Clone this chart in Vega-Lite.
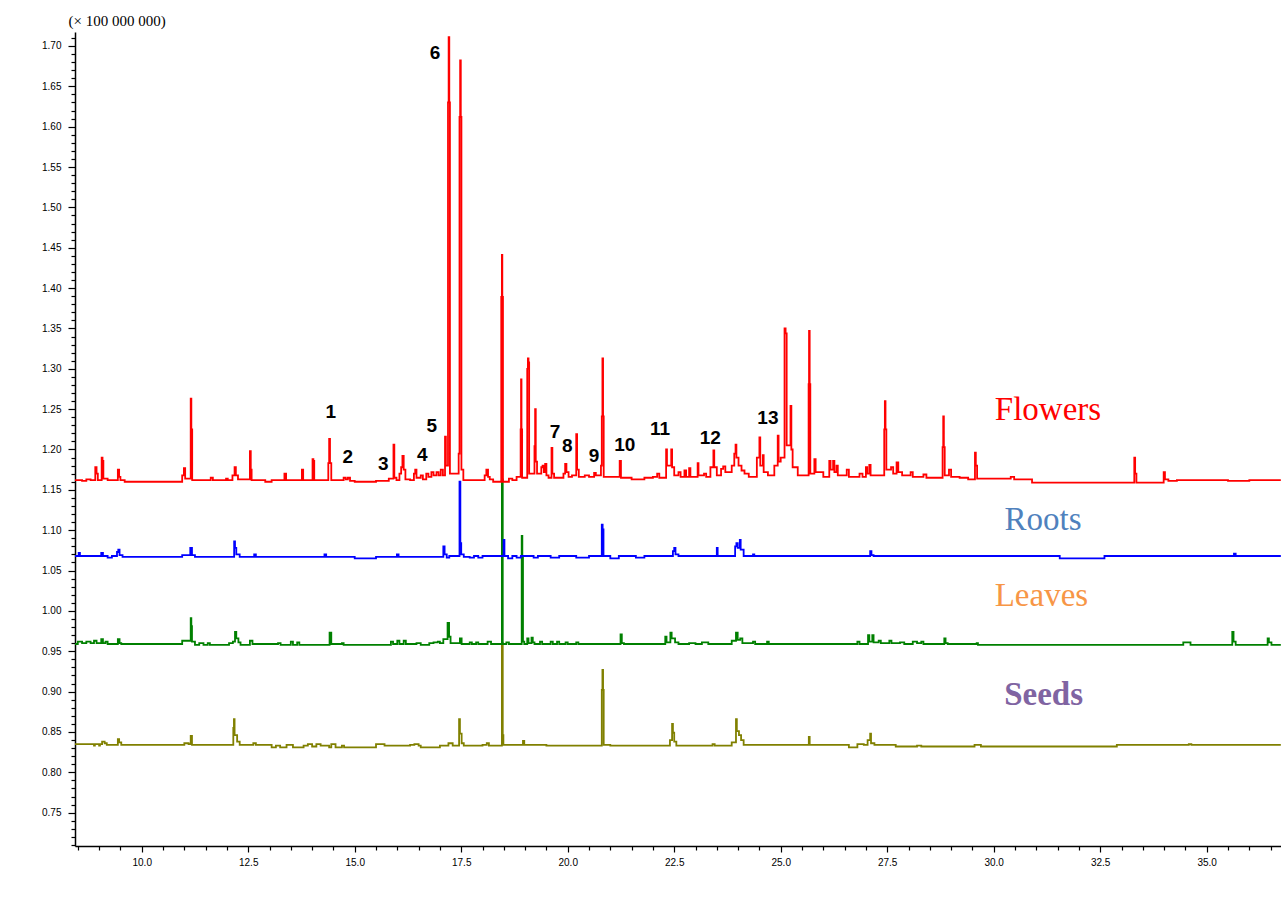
{
"$schema": "https://vega.github.io/schema/vega-lite/v6.json",
"width": 1206, "height": 814,
"autosize": {"type": "none"},
"padding": {"left": 75, "top": 32, "right": 0, "bottom": 59},
"background": "white",
"config": {"view": {"stroke": null}},
"datasets": {
"trace": [
{"part":"F","rt":8.43,"v":1.162},{"part":"F","rt":8.60,"v":1.161},{"part":"F","rt":8.70,"v":1.163},{"part":"F","rt":8.80,"v":1.162},{"part":"F","rt":8.91,"v":1.178},{"part":"F","rt":8.94,"v":1.170},{"part":"F","rt":8.97,"v":1.162},{"part":"F","rt":9.06,"v":1.190},{"part":"F","rt":9.08,"v":1.186},{"part":"F","rt":9.10,"v":1.164},{"part":"F","rt":9.20,"v":1.162},{"part":"F","rt":9.44,"v":1.175},{"part":"F","rt":9.47,"v":1.166},{"part":"F","rt":9.50,"v":1.162},{"part":"F","rt":9.60,"v":1.160},{"part":"F","rt":10.95,"v":1.168},{"part":"F","rt":10.99,"v":1.177},{"part":"F","rt":11.02,"v":1.164},{"part":"F","rt":11.15,"v":1.263},{"part":"F","rt":11.165,"v":1.225},{"part":"F","rt":11.185,"v":1.162},{"part":"F","rt":11.62,"v":1.165},{"part":"F","rt":11.67,"v":1.162},{"part":"F","rt":11.98,"v":1.164},{"part":"F","rt":12.02,"v":1.162},{"part":"F","rt":12.13,"v":1.168},{"part":"F","rt":12.18,"v":1.178},{"part":"F","rt":12.21,"v":1.168},{"part":"F","rt":12.26,"v":1.163},{"part":"F","rt":12.54,"v":1.198},{"part":"F","rt":12.56,"v":1.175},{"part":"F","rt":12.58,"v":1.162},{"part":"F","rt":12.90,"v":1.160},{"part":"F","rt":13.05,"v":1.162},{"part":"F","rt":13.35,"v":1.170},{"part":"F","rt":13.39,"v":1.162},{"part":"F","rt":13.76,"v":1.175},{"part":"F","rt":13.79,"v":1.162},{"part":"F","rt":14.01,"v":1.188},{"part":"F","rt":14.03,"v":1.186},{"part":"F","rt":14.05,"v":1.162},{"part":"F","rt":14.38,"v":1.183},{"part":"F","rt":14.40,"v":1.213},{"part":"F","rt":14.42,"v":1.183},{"part":"F","rt":14.45,"v":1.162},{"part":"F","rt":14.74,"v":1.165},{"part":"F","rt":14.79,"v":1.163},{"part":"F","rt":14.84,"v":1.165},{"part":"F","rt":14.89,"v":1.161},{"part":"F","rt":15.00,"v":1.160},{"part":"F","rt":15.50,"v":1.161},{"part":"F","rt":15.80,"v":1.164},{"part":"F","rt":15.91,"v":1.206},{"part":"F","rt":15.93,"v":1.165},{"part":"F","rt":15.98,"v":1.162},{"part":"F","rt":16.05,"v":1.170},{"part":"F","rt":16.09,"v":1.178},{"part":"F","rt":16.12,"v":1.192},{"part":"F","rt":16.15,"v":1.175},{"part":"F","rt":16.19,"v":1.163},{"part":"F","rt":16.30,"v":1.162},{"part":"F","rt":16.39,"v":1.170},{"part":"F","rt":16.42,"v":1.175},{"part":"F","rt":16.45,"v":1.165},{"part":"F","rt":16.55,"v":1.168},{"part":"F","rt":16.60,"v":1.163},{"part":"F","rt":16.68,"v":1.170},{"part":"F","rt":16.73,"v":1.166},{"part":"F","rt":16.80,"v":1.172},{"part":"F","rt":16.85,"v":1.168},{"part":"F","rt":16.92,"v":1.172},{"part":"F","rt":16.97,"v":1.168},{"part":"F","rt":17.02,"v":1.175},{"part":"F","rt":17.07,"v":1.168},{"part":"F","rt":17.12,"v":1.216},{"part":"F","rt":17.14,"v":1.180},{"part":"F","rt":17.19,"v":1.630},{"part":"F","rt":17.205,"v":1.711},{"part":"F","rt":17.22,"v":1.630},{"part":"F","rt":17.235,"v":1.170},{"part":"F","rt":17.44,"v":1.195},{"part":"F","rt":17.46,"v":1.612},{"part":"F","rt":17.475,"v":1.682},{"part":"F","rt":17.49,"v":1.612},{"part":"F","rt":17.505,"v":1.175},{"part":"F","rt":17.55,"v":1.162},{"part":"F","rt":18.05,"v":1.168},{"part":"F","rt":18.09,"v":1.175},{"part":"F","rt":18.13,"v":1.166},{"part":"F","rt":18.17,"v":1.163},{"part":"F","rt":18.25,"v":1.160},{"part":"F","rt":18.44,"v":1.389},{"part":"F","rt":18.455,"v":1.441},{"part":"F","rt":18.465,"v":1.389},{"part":"F","rt":18.48,"v":1.160},{"part":"F","rt":18.62,"v":1.164},{"part":"F","rt":18.70,"v":1.162},{"part":"F","rt":18.80,"v":1.166},{"part":"F","rt":18.895,"v":1.225},{"part":"F","rt":18.905,"v":1.287},{"part":"F","rt":18.915,"v":1.225},{"part":"F","rt":18.93,"v":1.165},{"part":"F","rt":19.05,"v":1.300},{"part":"F","rt":19.065,"v":1.313},{"part":"F","rt":19.08,"v":1.308},{"part":"F","rt":19.095,"v":1.170},{"part":"F","rt":19.22,"v":1.204},{"part":"F","rt":19.235,"v":1.250},{"part":"F","rt":19.25,"v":1.185},{"part":"F","rt":19.28,"v":1.170},{"part":"F","rt":19.38,"v":1.178},{"part":"F","rt":19.41,"v":1.180},{"part":"F","rt":19.44,"v":1.172},{"part":"F","rt":19.47,"v":1.182},{"part":"F","rt":19.50,"v":1.168},{"part":"F","rt":19.55,"v":1.165},{"part":"F","rt":19.62,"v":1.202},{"part":"F","rt":19.64,"v":1.170},{"part":"F","rt":19.68,"v":1.165},{"part":"F","rt":19.90,"v":1.170},{"part":"F","rt":19.94,"v":1.182},{"part":"F","rt":19.97,"v":1.172},{"part":"F","rt":20.02,"v":1.166},{"part":"F","rt":20.10,"v":1.168},{"part":"F","rt":20.20,"v":1.219},{"part":"F","rt":20.22,"v":1.175},{"part":"F","rt":20.26,"v":1.166},{"part":"F","rt":20.40,"v":1.168},{"part":"F","rt":20.50,"v":1.166},{"part":"F","rt":20.62,"v":1.171},{"part":"F","rt":20.66,"v":1.168},{"part":"F","rt":20.78,"v":1.180},{"part":"F","rt":20.80,"v":1.241},{"part":"F","rt":20.815,"v":1.313},{"part":"F","rt":20.83,"v":1.241},{"part":"F","rt":20.845,"v":1.166},{"part":"F","rt":21.22,"v":1.186},{"part":"F","rt":21.25,"v":1.165},{"part":"F","rt":21.50,"v":1.163},{"part":"F","rt":21.80,"v":1.165},{"part":"F","rt":22.00,"v":1.166},{"part":"F","rt":22.10,"v":1.170},{"part":"F","rt":22.15,"v":1.165},{"part":"F","rt":22.31,"v":1.200},{"part":"F","rt":22.33,"v":1.180},{"part":"F","rt":22.43,"v":1.200},{"part":"F","rt":22.45,"v":1.178},{"part":"F","rt":22.50,"v":1.168},{"part":"F","rt":22.60,"v":1.172},{"part":"F","rt":22.65,"v":1.166},{"part":"F","rt":22.74,"v":1.174},{"part":"F","rt":22.78,"v":1.166},{"part":"F","rt":22.85,"v":1.177},{"part":"F","rt":22.88,"v":1.166},{"part":"F","rt":23.05,"v":1.183},{"part":"F","rt":23.07,"v":1.168},{"part":"F","rt":23.20,"v":1.170},{"part":"F","rt":23.25,"v":1.166},{"part":"F","rt":23.35,"v":1.178},{"part":"F","rt":23.42,"v":1.199},{"part":"F","rt":23.44,"v":1.178},{"part":"F","rt":23.50,"v":1.168},{"part":"F","rt":23.60,"v":1.176},{"part":"F","rt":23.65,"v":1.179},{"part":"F","rt":23.70,"v":1.172},{"part":"F","rt":23.85,"v":1.180},{"part":"F","rt":23.91,"v":1.195},{"part":"F","rt":23.94,"v":1.206},{"part":"F","rt":23.96,"v":1.190},{"part":"F","rt":24.01,"v":1.180},{"part":"F","rt":24.08,"v":1.174},{"part":"F","rt":24.15,"v":1.170},{"part":"F","rt":24.25,"v":1.166},{"part":"F","rt":24.44,"v":1.190},{"part":"F","rt":24.50,"v":1.215},{"part":"F","rt":24.52,"v":1.180},{"part":"F","rt":24.58,"v":1.193},{"part":"F","rt":24.60,"v":1.172},{"part":"F","rt":24.70,"v":1.168},{"part":"F","rt":24.85,"v":1.180},{"part":"F","rt":24.93,"v":1.217},{"part":"F","rt":24.95,"v":1.185},{"part":"F","rt":25.00,"v":1.190},{"part":"F","rt":25.09,"v":1.350},{"part":"F","rt":25.115,"v":1.344},{"part":"F","rt":25.14,"v":1.205},{"part":"F","rt":25.23,"v":1.254},{"part":"F","rt":25.25,"v":1.200},{"part":"F","rt":25.28,"v":1.178},{"part":"F","rt":25.40,"v":1.168},{"part":"F","rt":25.655,"v":1.281},{"part":"F","rt":25.665,"v":1.347},{"part":"F","rt":25.68,"v":1.281},{"part":"F","rt":25.695,"v":1.170},{"part":"F","rt":25.79,"v":1.188},{"part":"F","rt":25.82,"v":1.172},{"part":"F","rt":26.00,"v":1.166},{"part":"F","rt":26.14,"v":1.186},{"part":"F","rt":26.17,"v":1.175},{"part":"F","rt":26.23,"v":1.186},{"part":"F","rt":26.26,"v":1.172},{"part":"F","rt":26.31,"v":1.180},{"part":"F","rt":26.34,"v":1.168},{"part":"F","rt":26.55,"v":1.175},{"part":"F","rt":26.60,"v":1.166},{"part":"F","rt":26.85,"v":1.170},{"part":"F","rt":26.92,"v":1.166},{"part":"F","rt":27.00,"v":1.178},{"part":"F","rt":27.03,"v":1.170},{"part":"F","rt":27.08,"v":1.181},{"part":"F","rt":27.11,"v":1.168},{"part":"F","rt":27.43,"v":1.225},{"part":"F","rt":27.445,"v":1.260},{"part":"F","rt":27.46,"v":1.225},{"part":"F","rt":27.48,"v":1.175},{"part":"F","rt":27.59,"v":1.178},{"part":"F","rt":27.64,"v":1.170},{"part":"F","rt":27.72,"v":1.184},{"part":"F","rt":27.76,"v":1.172},{"part":"F","rt":27.85,"v":1.168},{"part":"F","rt":28.05,"v":1.172},{"part":"F","rt":28.10,"v":1.166},{"part":"F","rt":28.35,"v":1.169},{"part":"F","rt":28.42,"v":1.165},{"part":"F","rt":28.80,"v":1.203},{"part":"F","rt":28.815,"v":1.241},{"part":"F","rt":28.83,"v":1.203},{"part":"F","rt":28.85,"v":1.168},{"part":"F","rt":28.95,"v":1.175},{"part":"F","rt":29.00,"v":1.166},{"part":"F","rt":29.20,"v":1.165},{"part":"F","rt":29.40,"v":1.163},{"part":"F","rt":29.56,"v":1.196},{"part":"F","rt":29.58,"v":1.180},{"part":"F","rt":29.61,"v":1.164},{"part":"F","rt":30.10,"v":1.164},{"part":"F","rt":30.40,"v":1.166},{"part":"F","rt":30.48,"v":1.163},{"part":"F","rt":30.90,"v":1.159},{"part":"F","rt":33.30,"v":1.190},{"part":"F","rt":33.32,"v":1.170},{"part":"F","rt":33.35,"v":1.159},{"part":"F","rt":33.99,"v":1.172},{"part":"F","rt":34.02,"v":1.163},{"part":"F","rt":34.10,"v":1.161},{"part":"F","rt":34.30,"v":1.162},{"part":"F","rt":35.50,"v":1.161},{"part":"F","rt":36.00,"v":1.162},{"part":"F","rt":36.74,"v":1.162},
{"part":"R","rt":8.43,"v":1.068},{"part":"R","rt":8.52,"v":1.072},{"part":"R","rt":8.55,"v":1.068},{"part":"R","rt":9.05,"v":1.072},{"part":"R","rt":9.09,"v":1.068},{"part":"R","rt":9.20,"v":1.066},{"part":"R","rt":9.30,"v":1.068},{"part":"R","rt":9.42,"v":1.073},{"part":"R","rt":9.45,"v":1.076},{"part":"R","rt":9.48,"v":1.069},{"part":"R","rt":9.55,"v":1.067},{"part":"R","rt":10.95,"v":1.069},{"part":"R","rt":11.14,"v":1.078},{"part":"R","rt":11.18,"v":1.069},{"part":"R","rt":11.25,"v":1.067},{"part":"R","rt":12.17,"v":1.086},{"part":"R","rt":12.19,"v":1.078},{"part":"R","rt":12.22,"v":1.070},{"part":"R","rt":12.30,"v":1.067},{"part":"R","rt":12.64,"v":1.070},{"part":"R","rt":12.68,"v":1.067},{"part":"R","rt":14.29,"v":1.070},{"part":"R","rt":14.33,"v":1.067},{"part":"R","rt":15.00,"v":1.065},{"part":"R","rt":15.50,"v":1.067},{"part":"R","rt":15.99,"v":1.070},{"part":"R","rt":16.03,"v":1.067},{"part":"R","rt":17.08,"v":1.080},{"part":"R","rt":17.11,"v":1.070},{"part":"R","rt":17.16,"v":1.066},{"part":"R","rt":17.22,"v":1.068},{"part":"R","rt":17.46,"v":1.160},{"part":"R","rt":17.48,"v":1.084},{"part":"R","rt":17.50,"v":1.070},{"part":"R","rt":17.56,"v":1.067},{"part":"R","rt":17.70,"v":1.066},{"part":"R","rt":17.80,"v":1.068},{"part":"R","rt":17.90,"v":1.066},{"part":"R","rt":18.00,"v":1.068},{"part":"R","rt":18.495,"v":1.088},{"part":"R","rt":18.515,"v":1.068},{"part":"R","rt":18.60,"v":1.065},{"part":"R","rt":18.70,"v":1.068},{"part":"R","rt":18.80,"v":1.066},{"part":"R","rt":18.90,"v":1.068},{"part":"R","rt":19.20,"v":1.066},{"part":"R","rt":19.30,"v":1.068},{"part":"R","rt":19.60,"v":1.066},{"part":"R","rt":19.80,"v":1.068},{"part":"R","rt":20.20,"v":1.066},{"part":"R","rt":20.50,"v":1.068},{"part":"R","rt":20.80,"v":1.107},{"part":"R","rt":20.82,"v":1.101},{"part":"R","rt":20.84,"v":1.068},{"part":"R","rt":21.00,"v":1.065},{"part":"R","rt":21.20,"v":1.068},{"part":"R","rt":21.60,"v":1.066},{"part":"R","rt":21.80,"v":1.068},{"part":"R","rt":22.47,"v":1.074},{"part":"R","rt":22.50,"v":1.078},{"part":"R","rt":22.53,"v":1.070},{"part":"R","rt":22.60,"v":1.068},{"part":"R","rt":23.50,"v":1.078},{"part":"R","rt":23.52,"v":1.068},{"part":"R","rt":23.93,"v":1.080},{"part":"R","rt":23.96,"v":1.084},{"part":"R","rt":23.99,"v":1.078},{"part":"R","rt":24.04,"v":1.088},{"part":"R","rt":24.06,"v":1.076},{"part":"R","rt":24.13,"v":1.068},{"part":"R","rt":24.35,"v":1.070},{"part":"R","rt":24.38,"v":1.068},{"part":"R","rt":27.10,"v":1.074},{"part":"R","rt":27.13,"v":1.069},{"part":"R","rt":27.18,"v":1.068},{"part":"R","rt":31.55,"v":1.065},{"part":"R","rt":32.60,"v":1.068},{"part":"R","rt":35.64,"v":1.071},{"part":"R","rt":35.68,"v":1.068},{"part":"R","rt":36.74,"v":1.068},
{"part":"L","rt":8.43,"v":0.959},{"part":"L","rt":8.50,"v":0.962},{"part":"L","rt":8.60,"v":0.960},{"part":"L","rt":8.70,"v":0.962},{"part":"L","rt":8.80,"v":0.960},{"part":"L","rt":8.88,"v":0.963},{"part":"L","rt":8.94,"v":0.960},{"part":"L","rt":9.05,"v":0.965},{"part":"L","rt":9.09,"v":0.960},{"part":"L","rt":9.15,"v":0.962},{"part":"L","rt":9.20,"v":0.959},{"part":"L","rt":9.44,"v":0.965},{"part":"L","rt":9.48,"v":0.960},{"part":"L","rt":9.52,"v":0.959},{"part":"L","rt":10.95,"v":0.963},{"part":"L","rt":11.15,"v":0.991},{"part":"L","rt":11.165,"v":0.981},{"part":"L","rt":11.18,"v":0.962},{"part":"L","rt":11.25,"v":0.958},{"part":"L","rt":11.35,"v":0.960},{"part":"L","rt":11.45,"v":0.958},{"part":"L","rt":11.55,"v":0.960},{"part":"L","rt":11.60,"v":0.958},{"part":"L","rt":12.05,"v":0.960},{"part":"L","rt":12.14,"v":0.962},{"part":"L","rt":12.19,"v":0.974},{"part":"L","rt":12.22,"v":0.966},{"part":"L","rt":12.27,"v":0.961},{"part":"L","rt":12.32,"v":0.958},{"part":"L","rt":12.54,"v":0.963},{"part":"L","rt":12.60,"v":0.959},{"part":"L","rt":13.20,"v":0.960},{"part":"L","rt":13.26,"v":0.958},{"part":"L","rt":13.50,"v":0.962},{"part":"L","rt":13.55,"v":0.958},{"part":"L","rt":13.65,"v":0.961},{"part":"L","rt":13.70,"v":0.958},{"part":"L","rt":14.41,"v":0.973},{"part":"L","rt":14.45,"v":0.959},{"part":"L","rt":14.70,"v":0.960},{"part":"L","rt":14.74,"v":0.958},{"part":"L","rt":15.85,"v":0.962},{"part":"L","rt":15.90,"v":0.959},{"part":"L","rt":16.00,"v":0.963},{"part":"L","rt":16.05,"v":0.959},{"part":"L","rt":16.15,"v":0.963},{"part":"L","rt":16.20,"v":0.959},{"part":"L","rt":16.45,"v":0.960},{"part":"L","rt":16.55,"v":0.958},{"part":"L","rt":16.75,"v":0.960},{"part":"L","rt":16.85,"v":0.961},{"part":"L","rt":16.95,"v":0.962},{"part":"L","rt":17.00,"v":0.960},{"part":"L","rt":17.08,"v":0.965},{"part":"L","rt":17.18,"v":0.985},{"part":"L","rt":17.215,"v":0.968},{"part":"L","rt":17.25,"v":0.960},{"part":"L","rt":17.47,"v":0.966},{"part":"L","rt":17.51,"v":0.959},{"part":"L","rt":17.70,"v":0.961},{"part":"L","rt":17.75,"v":0.959},{"part":"L","rt":17.85,"v":0.961},{"part":"L","rt":17.90,"v":0.959},{"part":"L","rt":18.12,"v":0.962},{"part":"L","rt":18.20,"v":0.959},{"part":"L","rt":18.455,"v":1.163},{"part":"L","rt":18.475,"v":0.959},{"part":"L","rt":18.56,"v":0.961},{"part":"L","rt":18.62,"v":0.959},{"part":"L","rt":18.92,"v":1.093},{"part":"L","rt":18.935,"v":1.067},{"part":"L","rt":18.95,"v":0.962},{"part":"L","rt":18.98,"v":0.959},{"part":"L","rt":19.05,"v":0.966},{"part":"L","rt":19.08,"v":0.960},{"part":"L","rt":19.15,"v":0.967},{"part":"L","rt":19.18,"v":0.961},{"part":"L","rt":19.22,"v":0.959},{"part":"L","rt":19.35,"v":0.962},{"part":"L","rt":19.40,"v":0.959},{"part":"L","rt":19.60,"v":0.962},{"part":"L","rt":19.65,"v":0.959},{"part":"L","rt":19.75,"v":0.962},{"part":"L","rt":19.80,"v":0.959},{"part":"L","rt":19.95,"v":0.961},{"part":"L","rt":20.00,"v":0.959},{"part":"L","rt":20.20,"v":0.961},{"part":"L","rt":20.25,"v":0.959},{"part":"L","rt":21.24,"v":0.971},{"part":"L","rt":21.27,"v":0.960},{"part":"L","rt":21.32,"v":0.959},{"part":"L","rt":22.29,"v":0.968},{"part":"L","rt":22.32,"v":0.961},{"part":"L","rt":22.41,"v":0.973},{"part":"L","rt":22.44,"v":0.966},{"part":"L","rt":22.52,"v":0.961},{"part":"L","rt":22.60,"v":0.959},{"part":"L","rt":22.85,"v":0.960},{"part":"L","rt":23.00,"v":0.959},{"part":"L","rt":23.15,"v":0.961},{"part":"L","rt":23.30,"v":0.959},{"part":"L","rt":23.85,"v":0.963},{"part":"L","rt":23.95,"v":0.973},{"part":"L","rt":23.99,"v":0.964},{"part":"L","rt":24.05,"v":0.966},{"part":"L","rt":24.10,"v":0.960},{"part":"L","rt":24.35,"v":0.962},{"part":"L","rt":24.40,"v":0.959},{"part":"L","rt":24.68,"v":0.962},{"part":"L","rt":24.72,"v":0.959},{"part":"L","rt":26.80,"v":0.962},{"part":"L","rt":26.85,"v":0.959},{"part":"L","rt":27.05,"v":0.970},{"part":"L","rt":27.08,"v":0.962},{"part":"L","rt":27.15,"v":0.970},{"part":"L","rt":27.18,"v":0.961},{"part":"L","rt":27.30,"v":0.963},{"part":"L","rt":27.35,"v":0.960},{"part":"L","rt":27.55,"v":0.963},{"part":"L","rt":27.60,"v":0.960},{"part":"L","rt":27.80,"v":0.961},{"part":"L","rt":27.90,"v":0.959},{"part":"L","rt":28.10,"v":0.962},{"part":"L","rt":28.20,"v":0.960},{"part":"L","rt":28.30,"v":0.962},{"part":"L","rt":28.35,"v":0.959},{"part":"L","rt":28.84,"v":0.966},{"part":"L","rt":28.87,"v":0.960},{"part":"L","rt":28.92,"v":0.959},{"part":"L","rt":29.60,"v":0.960},{"part":"L","rt":29.63,"v":0.958},{"part":"L","rt":34.45,"v":0.961},{"part":"L","rt":34.62,"v":0.958},{"part":"L","rt":35.60,"v":0.974},{"part":"L","rt":35.63,"v":0.962},{"part":"L","rt":35.68,"v":0.958},{"part":"L","rt":36.43,"v":0.966},{"part":"L","rt":36.46,"v":0.961},{"part":"L","rt":36.52,"v":0.958},{"part":"L","rt":36.74,"v":0.958},
{"part":"S","rt":8.43,"v":0.835},{"part":"S","rt":8.88,"v":0.833},{"part":"S","rt":8.90,"v":0.835},{"part":"S","rt":9.00,"v":0.833},{"part":"S","rt":9.02,"v":0.835},{"part":"S","rt":9.07,"v":0.838},{"part":"S","rt":9.13,"v":0.836},{"part":"S","rt":9.18,"v":0.834},{"part":"S","rt":9.44,"v":0.841},{"part":"S","rt":9.47,"v":0.837},{"part":"S","rt":9.52,"v":0.834},{"part":"S","rt":11.00,"v":0.836},{"part":"S","rt":11.10,"v":0.835},{"part":"S","rt":11.15,"v":0.845},{"part":"S","rt":11.18,"v":0.834},{"part":"S","rt":12.15,"v":0.855},{"part":"S","rt":12.165,"v":0.866},{"part":"S","rt":12.18,"v":0.846},{"part":"S","rt":12.24,"v":0.838},{"part":"S","rt":12.30,"v":0.834},{"part":"S","rt":12.62,"v":0.836},{"part":"S","rt":12.68,"v":0.834},{"part":"S","rt":13.05,"v":0.831},{"part":"S","rt":13.15,"v":0.833},{"part":"S","rt":13.25,"v":0.831},{"part":"S","rt":13.40,"v":0.834},{"part":"S","rt":13.55,"v":0.831},{"part":"S","rt":13.80,"v":0.833},{"part":"S","rt":13.90,"v":0.835},{"part":"S","rt":14.00,"v":0.832},{"part":"S","rt":14.10,"v":0.835},{"part":"S","rt":14.20,"v":0.833},{"part":"S","rt":14.40,"v":0.831},{"part":"S","rt":14.45,"v":0.835},{"part":"S","rt":14.55,"v":0.831},{"part":"S","rt":14.70,"v":0.833},{"part":"S","rt":14.75,"v":0.831},{"part":"S","rt":15.50,"v":0.835},{"part":"S","rt":15.70,"v":0.833},{"part":"S","rt":16.30,"v":0.834},{"part":"S","rt":16.40,"v":0.835},{"part":"S","rt":16.50,"v":0.833},{"part":"S","rt":16.55,"v":0.831},{"part":"S","rt":17.00,"v":0.833},{"part":"S","rt":17.20,"v":0.836},{"part":"S","rt":17.30,"v":0.833},{"part":"S","rt":17.45,"v":0.866},{"part":"S","rt":17.47,"v":0.848},{"part":"S","rt":17.51,"v":0.836},{"part":"S","rt":17.56,"v":0.833},{"part":"S","rt":18.00,"v":0.834},{"part":"S","rt":18.10,"v":0.836},{"part":"S","rt":18.15,"v":0.833},{"part":"S","rt":18.455,"v":0.960},{"part":"S","rt":18.475,"v":0.846},{"part":"S","rt":18.49,"v":0.834},{"part":"S","rt":18.95,"v":0.839},{"part":"S","rt":18.98,"v":0.834},{"part":"S","rt":19.50,"v":0.833},{"part":"S","rt":20.80,"v":0.902},{"part":"S","rt":20.815,"v":0.927},{"part":"S","rt":20.83,"v":0.902},{"part":"S","rt":20.845,"v":0.834},{"part":"S","rt":21.00,"v":0.833},{"part":"S","rt":22.40,"v":0.840},{"part":"S","rt":22.45,"v":0.860},{"part":"S","rt":22.47,"v":0.849},{"part":"S","rt":22.50,"v":0.838},{"part":"S","rt":22.55,"v":0.833},{"part":"S","rt":23.40,"v":0.835},{"part":"S","rt":23.45,"v":0.833},{"part":"S","rt":23.85,"v":0.837},{"part":"S","rt":23.95,"v":0.866},{"part":"S","rt":23.97,"v":0.851},{"part":"S","rt":24.02,"v":0.846},{"part":"S","rt":24.07,"v":0.840},{"part":"S","rt":24.13,"v":0.834},{"part":"S","rt":25.66,"v":0.844},{"part":"S","rt":25.68,"v":0.834},{"part":"S","rt":26.60,"v":0.831},{"part":"S","rt":26.80,"v":0.835},{"part":"S","rt":26.95,"v":0.834},{"part":"S","rt":27.04,"v":0.840},{"part":"S","rt":27.10,"v":0.848},{"part":"S","rt":27.12,"v":0.836},{"part":"S","rt":27.20,"v":0.834},{"part":"S","rt":27.70,"v":0.832},{"part":"S","rt":28.20,"v":0.833},{"part":"S","rt":28.30,"v":0.832},{"part":"S","rt":29.55,"v":0.834},{"part":"S","rt":29.70,"v":0.832},{"part":"S","rt":32.89,"v":0.834},{"part":"S","rt":34.58,"v":0.835},{"part":"S","rt":34.64,"v":0.834},{"part":"S","rt":36.74,"v":0.834}
],
"labels": [
{"lab":"1","kind":"num","rt":14.437,"v":1.239},
{"lab":"2","kind":"num","rt":14.835,"v":1.1837},
{"lab":"3","kind":"num","rt":15.672,"v":1.1746},
{"lab":"4","kind":"num","rt":16.587,"v":1.1858},
{"lab":"5","kind":"num","rt":16.808,"v":1.2221},
{"lab":"6","kind":"num","rt":16.885,"v":1.6839},
{"lab":"7","kind":"num","rt":19.70,"v":1.2139},
{"lab":"8","kind":"num","rt":19.99,"v":1.1973},
{"lab":"9","kind":"num","rt":20.617,"v":1.1849},
{"lab":"10","kind":"num","rt":21.338,"v":1.1985},
{"lab":"11","kind":"num","rt":22.167,"v":1.2180},
{"lab":"12","kind":"num","rt":23.348,"v":1.2068},
{"lab":"13","kind":"num","rt":24.70,"v":1.2316},
{"lab":"Flowers","kind":"Flowers","rt":31.275,"v":1.2366},
{"lab":"Roots","kind":"Roots","rt":31.157,"v":1.1003},
{"lab":"Leaves","kind":"Leaves","rt":31.12,"v":1.0061},
{"lab":"Seeds","kind":"Seeds","rt":31.17,"v":0.8834}
]
},
"encoding": {
"x": {"field": "rt", "type": "quantitative",
 "scale": {"domain": [8.434, 36.744], "nice": false, "zero": false},
 "axis": {"title": null, "grid": false,
  "values": [8.5,9,9.5,10,10.5,11,11.5,12,12.5,13,13.5,14,14.5,15,15.5,16,16.5,17,17.5,18,18.5,19,19.5,20,20.5,21,21.5,22,22.5,23,23.5,24,24.5,25,25.5,26,26.5,27,27.5,28,28.5,29,29.5,30,30.5,31,31.5,32,32.5,33,33.5,34,34.5,35,35.5,36,36.5],
  "labelExpr": "round(datum.value*10) % 25 == 0 ? format(datum.value, '.1f') : ''",
  "tickSize": {"condition": {"test": "round(datum.value*10) % 25 == 0", "value": 6}, "value": 4},
  "domainColor": "black", "domainWidth": 1.5, "tickColor": "black", "tickWidth": 1.2,
  "labelFont": "Liberation Sans", "labelFontSize": 10, "labelColor": "black",
  "labelOverlap": false, "labelFlush": false, "labelBound": false, "labelPadding": 5}},
"y": {"field": "v", "type": "quantitative",
 "scale": {"domain": [0.7087, 1.7173], "nice": false, "zero": false},
 "axis": {"grid": false,
  "title": "(× 100 000 000)", "titleAngle": 0, "titleAlign": "left", "titleBaseline": "alphabetic",
  "titleX": -7, "titleY": -7, "titleFont": "Liberation Serif", "titleFontSize": 15, "titleFontWeight": "normal", "titleColor": "black",
  "values": [0.71,0.72,0.73,0.74,0.75,0.76,0.77,0.78,0.79,0.80,0.81,0.82,0.83,0.84,0.85,0.86,0.87,0.88,0.89,0.90,0.91,0.92,0.93,0.94,0.95,0.96,0.97,0.98,0.99,1.00,1.01,1.02,1.03,1.04,1.05,1.06,1.07,1.08,1.09,1.10,1.11,1.12,1.13,1.14,1.15,1.16,1.17,1.18,1.19,1.20,1.21,1.22,1.23,1.24,1.25,1.26,1.27,1.28,1.29,1.30,1.31,1.32,1.33,1.34,1.35,1.36,1.37,1.38,1.39,1.40,1.41,1.42,1.43,1.44,1.45,1.46,1.47,1.48,1.49,1.50,1.51,1.52,1.53,1.54,1.55,1.56,1.57,1.58,1.59,1.60,1.61,1.62,1.63,1.64,1.65,1.66,1.67,1.68,1.69,1.70,1.71],
  "labelExpr": "round(datum.value*100) % 5 == 0 ? format(datum.value, '.2f') : ''",
  "tickSize": {"condition": {"test": "round(datum.value*100) % 5 == 0", "value": 7}, "value": 4},
  "domainColor": "black", "domainWidth": 1.5, "tickColor": "black", "tickWidth": 1.2,
  "labelFont": "Liberation Sans", "labelFontSize": 10, "labelColor": "black",
  "labelOverlap": false, "labelFlush": false, "labelBound": false, "labelPadding": 7}}
},
"layer": [
 {"data": {"name": "trace"}, "transform": [{"filter": "datum.part == 'S'"}],
  "mark": {"type": "line", "interpolate": "step-after", "color": "#808000", "strokeWidth": 1.8, "clip": true}},
 {"data": {"name": "trace"}, "transform": [{"filter": "datum.part == 'L'"}],
  "mark": {"type": "line", "interpolate": "step-after", "color": "#008000", "strokeWidth": 1.8, "clip": true}},
 {"data": {"name": "trace"}, "transform": [{"filter": "datum.part == 'R'"}],
  "mark": {"type": "line", "interpolate": "step-after", "color": "#0000ff", "strokeWidth": 1.8, "clip": true}},
 {"data": {"name": "trace"}, "transform": [{"filter": "datum.part == 'F'"}],
  "mark": {"type": "line", "interpolate": "step-after", "color": "#ff0000", "strokeWidth": 1.8, "clip": true}},
 {"data": {"name": "labels"}, "transform": [{"filter": "datum.kind == 'num'"}],
  "mark": {"type": "text", "font": "Liberation Sans", "fontSize": 19, "fontWeight": "bold", "color": "black", "align": "center", "baseline": "alphabetic"},
  "encoding": {"text": {"field": "lab"}}},
 {"data": {"name": "labels"}, "transform": [{"filter": "datum.kind == 'Flowers'"}],
  "mark": {"type": "text", "font": "Liberation Serif", "fontSize": 33, "color": "#ff0000", "align": "center", "baseline": "alphabetic"},
  "encoding": {"text": {"field": "lab"}}},
 {"data": {"name": "labels"}, "transform": [{"filter": "datum.kind == 'Roots'"}],
  "mark": {"type": "text", "font": "Liberation Serif", "fontSize": 33, "color": "#4f81bd", "align": "center", "baseline": "alphabetic"},
  "encoding": {"text": {"field": "lab"}}},
 {"data": {"name": "labels"}, "transform": [{"filter": "datum.kind == 'Leaves'"}],
  "mark": {"type": "text", "font": "Liberation Serif", "fontSize": 33, "color": "#f79646", "align": "center", "baseline": "alphabetic"},
  "encoding": {"text": {"field": "lab"}}},
 {"data": {"name": "labels"}, "transform": [{"filter": "datum.kind == 'Seeds'"}],
  "mark": {"type": "text", "font": "Liberation Serif", "fontSize": 33, "fontWeight": "bold", "color": "#8064a2", "align": "center", "baseline": "alphabetic"},
  "encoding": {"text": {"field": "lab"}}}
]
}
